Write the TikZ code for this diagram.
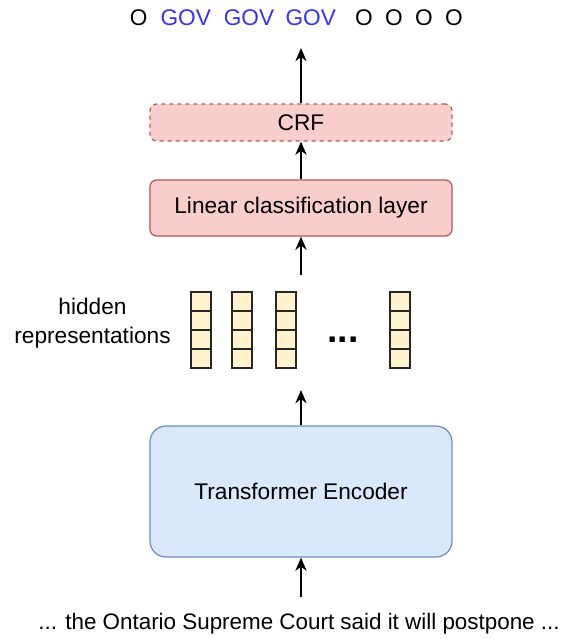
\documentclass[tikz,border=0pt]{standalone}
\usepackage{fontspec}
\setmainfont{Liberation Sans}
\usetikzlibrary{arrows.meta,positioning}

\definecolor{redfill}{HTML}{F8CECC}
\definecolor{redline}{HTML}{B85450}
\definecolor{bluefill}{HTML}{DAE8FC}
\definecolor{blueline}{HTML}{6C8EBF}
\definecolor{cellfill}{HTML}{FFF2CC}
\definecolor{govblue}{HTML}{3333FF}

\tikzset{
  txt/.style={font=\fontsize{17}{22}\selectfont, inner sep=0pt},
  layerbox/.style={txt, draw=redline, fill=redfill, line width=0.9pt,
    rounded corners=5pt, minimum width=226.5pt},
  cell/.style={draw=black!85, fill=cellfill, line width=1.1pt,
    minimum width=15pt, minimum height=14.25pt, inner sep=0pt},
  flow/.style={-{Stealth[length=10pt,width=8.5pt]}, line width=1pt}
}

\begin{document}
\begin{tikzpicture}[x=0.75pt,y=-0.75pt]
\useasboundingbox (0,0) rectangle (561,639);

% Tags
\node[txt] (t1) at (138.8,18) {O};
\node[txt, text=govblue] (t2) at (185.8,18) {GOV};
\node[txt, text=govblue] (t3) at (249,18) {GOV};
\node[txt, text=govblue] (t4) at (310.8,18) {GOV};
\node[txt] (t5) at (364,18) {O};
\node[txt] (t6) at (394,18) {O};
\node[txt] (t7) at (424,18) {O};
\node[txt] (t8) at (454,18) {O};

% Layers
\node[layerbox, dashed, minimum height=27.75pt] (crf) at (301,122.5) {CRF};
\node[layerbox, minimum height=42pt] (linear) at (301,208) {Linear classification layer};
\node[txt, draw=blueline, fill=bluefill, line width=0.9pt, rounded corners=12pt,
  minimum width=226.5pt, minimum height=98.25pt] (encoder) at (301,491.5) {Transformer Encoder};

% Hidden vectors
\foreach \x [count=\i] in {201,242,286,400}{
  \foreach \j in {0,...,3}
    \node[cell] (v\i-\j) at (\x,301.5+\j*19) {};
}
\node[font=\fontsize{28}{28}\selectfont\bfseries, inner sep=0pt] (dots) at (343,340) {...};
\node[txt, align=center] (hidlabel) at (92.5,323) {hidden\\representations};

% Input sentence
\node[txt, font=\fontsize{16.8}{20}\selectfont] (input) at (299,624) {... the Ontario Supreme Court said it will postpone ...};

% Arrows
\coordinate (outtop) at (301,48);
\coordinate (hidtop) at (301,275);
\coordinate (hidbot) at (301,390);
\coordinate (inbot) at (301,597);
\draw[flow] (crf.north) -- (outtop);
\draw[flow] (linear.north) -- (crf.south);
\draw[flow] (hidtop) -- (linear.south);
\draw[flow] (encoder.north) -- (hidbot);
\draw[flow] (inbot) -- (encoder.south);

\end{tikzpicture}
\end{document}
